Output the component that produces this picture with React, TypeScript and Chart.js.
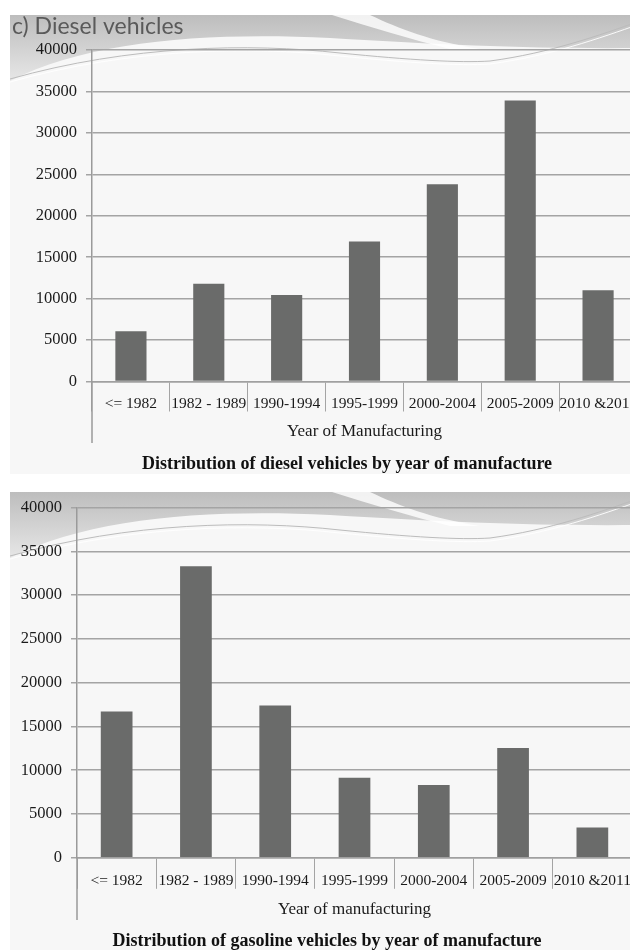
import React, { useEffect, useRef } from 'react';
import { Chart, registerables } from 'chart.js';

Chart.register(...registerables);

// ---------- data ----------
const categories = ['<= 1982', '1982 - 1989', '1990-1994', '1995-1999', '2000-2004', '2005-2009', '2010 &2011'];
const dieselValues = [6050, 11800, 10450, 16900, 23800, 33900, 11000];
const gasolineValues = [16700, 33300, 17400, 9150, 8300, 12550, 3450];
const yMin = 0;
const yMax = 40000;
const yStep = 5000;
const dieselHeading = 'c) Diesel vehicles';
const dieselAxisTitle = 'Year of Manufacturing';
const gasolineAxisTitle = 'Year of manufacturing';
const dieselCaption = 'Distribution of diesel vehicles by year of manufacture';
const gasolineCaption = 'Distribution of gasoline vehicles by year of manufacture';

type Geo = {
  canvasW: number;
  canvasH: number;
  padTop: number;
  padRight: number;
  padBottom: number;
  yAxisW: number;
  xAxisH: number;
  tickLen: number;
  tickPad: number;
  titlePadBottom: number;
  panelTop: number;
  panelBottom: number;
  axisExtendTo: number;
  captionX: number;
  captionY: number;
};

function drawTemplate(ctx: CanvasRenderingContext2D, x0: number, y0: number, x1: number, y1: number) {
  ctx.save();
  ctx.fillStyle = '#f7f7f7';
  ctx.fillRect(x0, y0, x1 - x0, y1 - y0);

  // gray swoosh band
  const g = ctx.createLinearGradient(0, y0, 0, y0 + 65);
  g.addColorStop(0, '#bdbdbd');
  g.addColorStop(1, '#e6e6e6');
  ctx.fillStyle = g;
  ctx.beginPath();
  ctx.moveTo(x0, y0);
  ctx.lineTo(x1, y0);
  ctx.lineTo(x1, y0 + 33);
  ctx.bezierCurveTo(x0 + 520, y0 + 34, x0 + 440, y0 + 30, x0 + 320, y0 + 23);
  ctx.bezierCurveTo(x0 + 200, y0 + 17, x0 + 80, y0 + 25, x0, y0 + 66);
  ctx.closePath();
  ctx.fill();

  // white streak
  ctx.fillStyle = 'rgba(255,255,255,0.8)';
  ctx.beginPath();
  ctx.moveTo(x0 + 322, y0);
  ctx.lineTo(x0 + 360, y0);
  ctx.bezierCurveTo(x0 + 390, y0 + 14, x0 + 420, y0 + 26, x0 + 470, y0 + 34);
  ctx.lineTo(x0 + 440, y0 + 34);
  ctx.bezierCurveTo(x0 + 400, y0 + 24, x0 + 360, y0 + 12, x0 + 322, y0);
  ctx.closePath();
  ctx.fill();

  // thin curved lines
  ctx.lineWidth = 1;
  ctx.strokeStyle = '#bcbcbc';
  ctx.beginPath();
  ctx.moveTo(x0, y0 + 64);
  ctx.bezierCurveTo(x0 + 120, y0 + 30, x0 + 240, y0 + 28, x0 + 330, y0 + 38);
  ctx.bezierCurveTo(x0 + 400, y0 + 45, x0 + 450, y0 + 48, x0 + 480, y0 + 46);
  ctx.bezierCurveTo(x0 + 540, y0 + 38, x0 + 590, y0 + 20, x1, y0 + 6);
  ctx.stroke();
  ctx.strokeStyle = 'rgba(255,255,255,0.9)';
  ctx.beginPath();
  ctx.moveTo(x0, y0 + 67);
  ctx.bezierCurveTo(x0 + 120, y0 + 33, x0 + 240, y0 + 31, x0 + 330, y0 + 41);
  ctx.bezierCurveTo(x0 + 400, y0 + 48, x0 + 450, y0 + 51, x0 + 480, y0 + 49);
  ctx.bezierCurveTo(x0 + 540, y0 + 41, x0 + 590, y0 + 23, x1, y0 + 9);
  ctx.stroke();
  ctx.restore();
}

function BarPanel(props: {
  values: number[];
  axisTitle: string;
  caption: string;
  heading?: string;
  geo: Geo;
}) {
  const ref = useRef<HTMLCanvasElement | null>(null);
  const { values, axisTitle, caption, heading, geo } = props;

  useEffect(() => {
    if (!ref.current) return;
    const serif = '"Liberation Serif", "Times New Roman", serif';
    const decor = {
      id: 'decor',
      beforeDraw(chart: any) {
        const ctx = chart.ctx as CanvasRenderingContext2D;
        drawTemplate(ctx, 10, geo.panelTop, geo.canvasW, geo.panelBottom);
        if (heading) {
          ctx.save();
          ctx.font = '23px Lato, "Open Sans", sans-serif';
          ctx.fillStyle = '#5a5a5a';
          ctx.textAlign = 'left';
          ctx.textBaseline = 'alphabetic';
          ctx.fillText(heading, 12, 34);
          ctx.restore();
        }
      },
      afterDraw(chart: any) {
        const ctx = chart.ctx as CanvasRenderingContext2D;
        const a = chart.chartArea;
        ctx.save();
        ctx.strokeStyle = '#9a9a9a';
        ctx.lineWidth = 1.5;
        ctx.beginPath();
        ctx.moveTo(a.left, a.bottom);
        ctx.lineTo(a.left, geo.axisExtendTo);
        ctx.stroke();
        ctx.font = 'bold 18px ' + serif;
        ctx.fillStyle = '#111';
        ctx.textAlign = 'center';
        ctx.textBaseline = 'middle';
        ctx.fillText(caption, geo.captionX, geo.captionY);
        ctx.restore();
      },
    };

    const chart = new Chart(ref.current, {
      type: 'bar',
      data: {
        labels: categories,
        datasets: [
          {
            data: values,
            backgroundColor: '#6a6b6a',
            borderWidth: 0,
            barPercentage: 0.4,
            categoryPercentage: 1,
          },
        ],
      },
      options: {
        animation: false,
        responsive: false,
        events: [],
        layout: {
          padding: { left: 10, top: geo.padTop, right: geo.padRight, bottom: geo.padBottom },
        },
        plugins: {
          legend: { display: false },
          tooltip: { enabled: false },
          title: { display: false },
        },
        scales: {
          x: {
            grid: {
              offset: true,
              drawOnChartArea: false,
              drawTicks: true,
              tickLength: geo.tickLen,
              color: '#a4a4a4',
              lineWidth: 1,
            },
            border: { display: true, color: '#a0a0a0', width: 1.5 },
            ticks: {
              font: { family: serif, size: 15.5 },
              color: '#1a1a1a',
              padding: geo.tickPad,
              maxRotation: 0,
              autoSkip: false,
            },
            title: {
              display: true,
              text: axisTitle,
              font: { family: serif, size: 17 },
              color: '#1a1a1a',
              padding: { top: 0, bottom: geo.titlePadBottom },
            },
            afterFit: (s: any) => {
              s.height = geo.xAxisH;
            },
          },
          y: {
            min: yMin,
            max: yMax,
            ticks: {
              stepSize: yStep,
              callback: (v: any) => String(v),
              font: { family: serif, size: 16.5 },
              color: '#1a1a1a',
              padding: 9,
            },
            grid: { color: '#a4a4a4', lineWidth: 1.5, tickLength: 6 },
            border: { display: true, color: '#9a9a9a', width: 1.5 },
            afterFit: (s: any) => {
              s.width = geo.yAxisW;
            },
          },
        },
      },
      plugins: [decor],
    } as any);
    return () => chart.destroy();
  }, [values, axisTitle, caption, heading, geo]);

  return <canvas ref={ref} width={geo.canvasW} height={geo.canvasH} style={{ display: 'block' }} />;
}

const topGeo: Geo = {
  canvasW: 640,
  canvasH: 478,
  padTop: 50,
  padRight: 3,
  padBottom: 32.5,
  yAxisW: 82,
  xAxisH: 64,
  tickLen: 30,
  tickPad: -16.8,
  titlePadBottom: 3.5,
  panelTop: 15,
  panelBottom: 474,
  axisExtendTo: 443,
  captionX: 347,
  captionY: 464,
};

const bottomGeo: Geo = {
  canvasW: 640,
  canvasH: 470,
  padTop: 27.5,
  padRight: 8,
  padBottom: 28.2,
  yAxisW: 67,
  xAxisH: 64,
  tickLen: 31,
  tickPad: -17.1,
  titlePadBottom: 1.8,
  panelTop: 12,
  panelBottom: 470,
  axisExtendTo: 440,
  captionX: 327,
  captionY: 461,
};

export default function App() {
  return (
    <div
      style={{
        position: 'absolute',
        left: 0,
        top: 0,
        width: 630,
        height: 950,
        overflow: 'hidden',
        background: '#ffffff',
      }}
    >
      <div style={{ position: 'absolute', left: 0, top: 0 }}>
        <BarPanel
          values={dieselValues}
          axisTitle={dieselAxisTitle}
          caption={dieselCaption}
          heading={dieselHeading}
          geo={topGeo}
        />
      </div>
      <div style={{ position: 'absolute', left: 0, top: 480 }}>
        <BarPanel
          values={gasolineValues}
          axisTitle={gasolineAxisTitle}
          caption={gasolineCaption}
          geo={bottomGeo}
        />
      </div>
    </div>
  );
}
